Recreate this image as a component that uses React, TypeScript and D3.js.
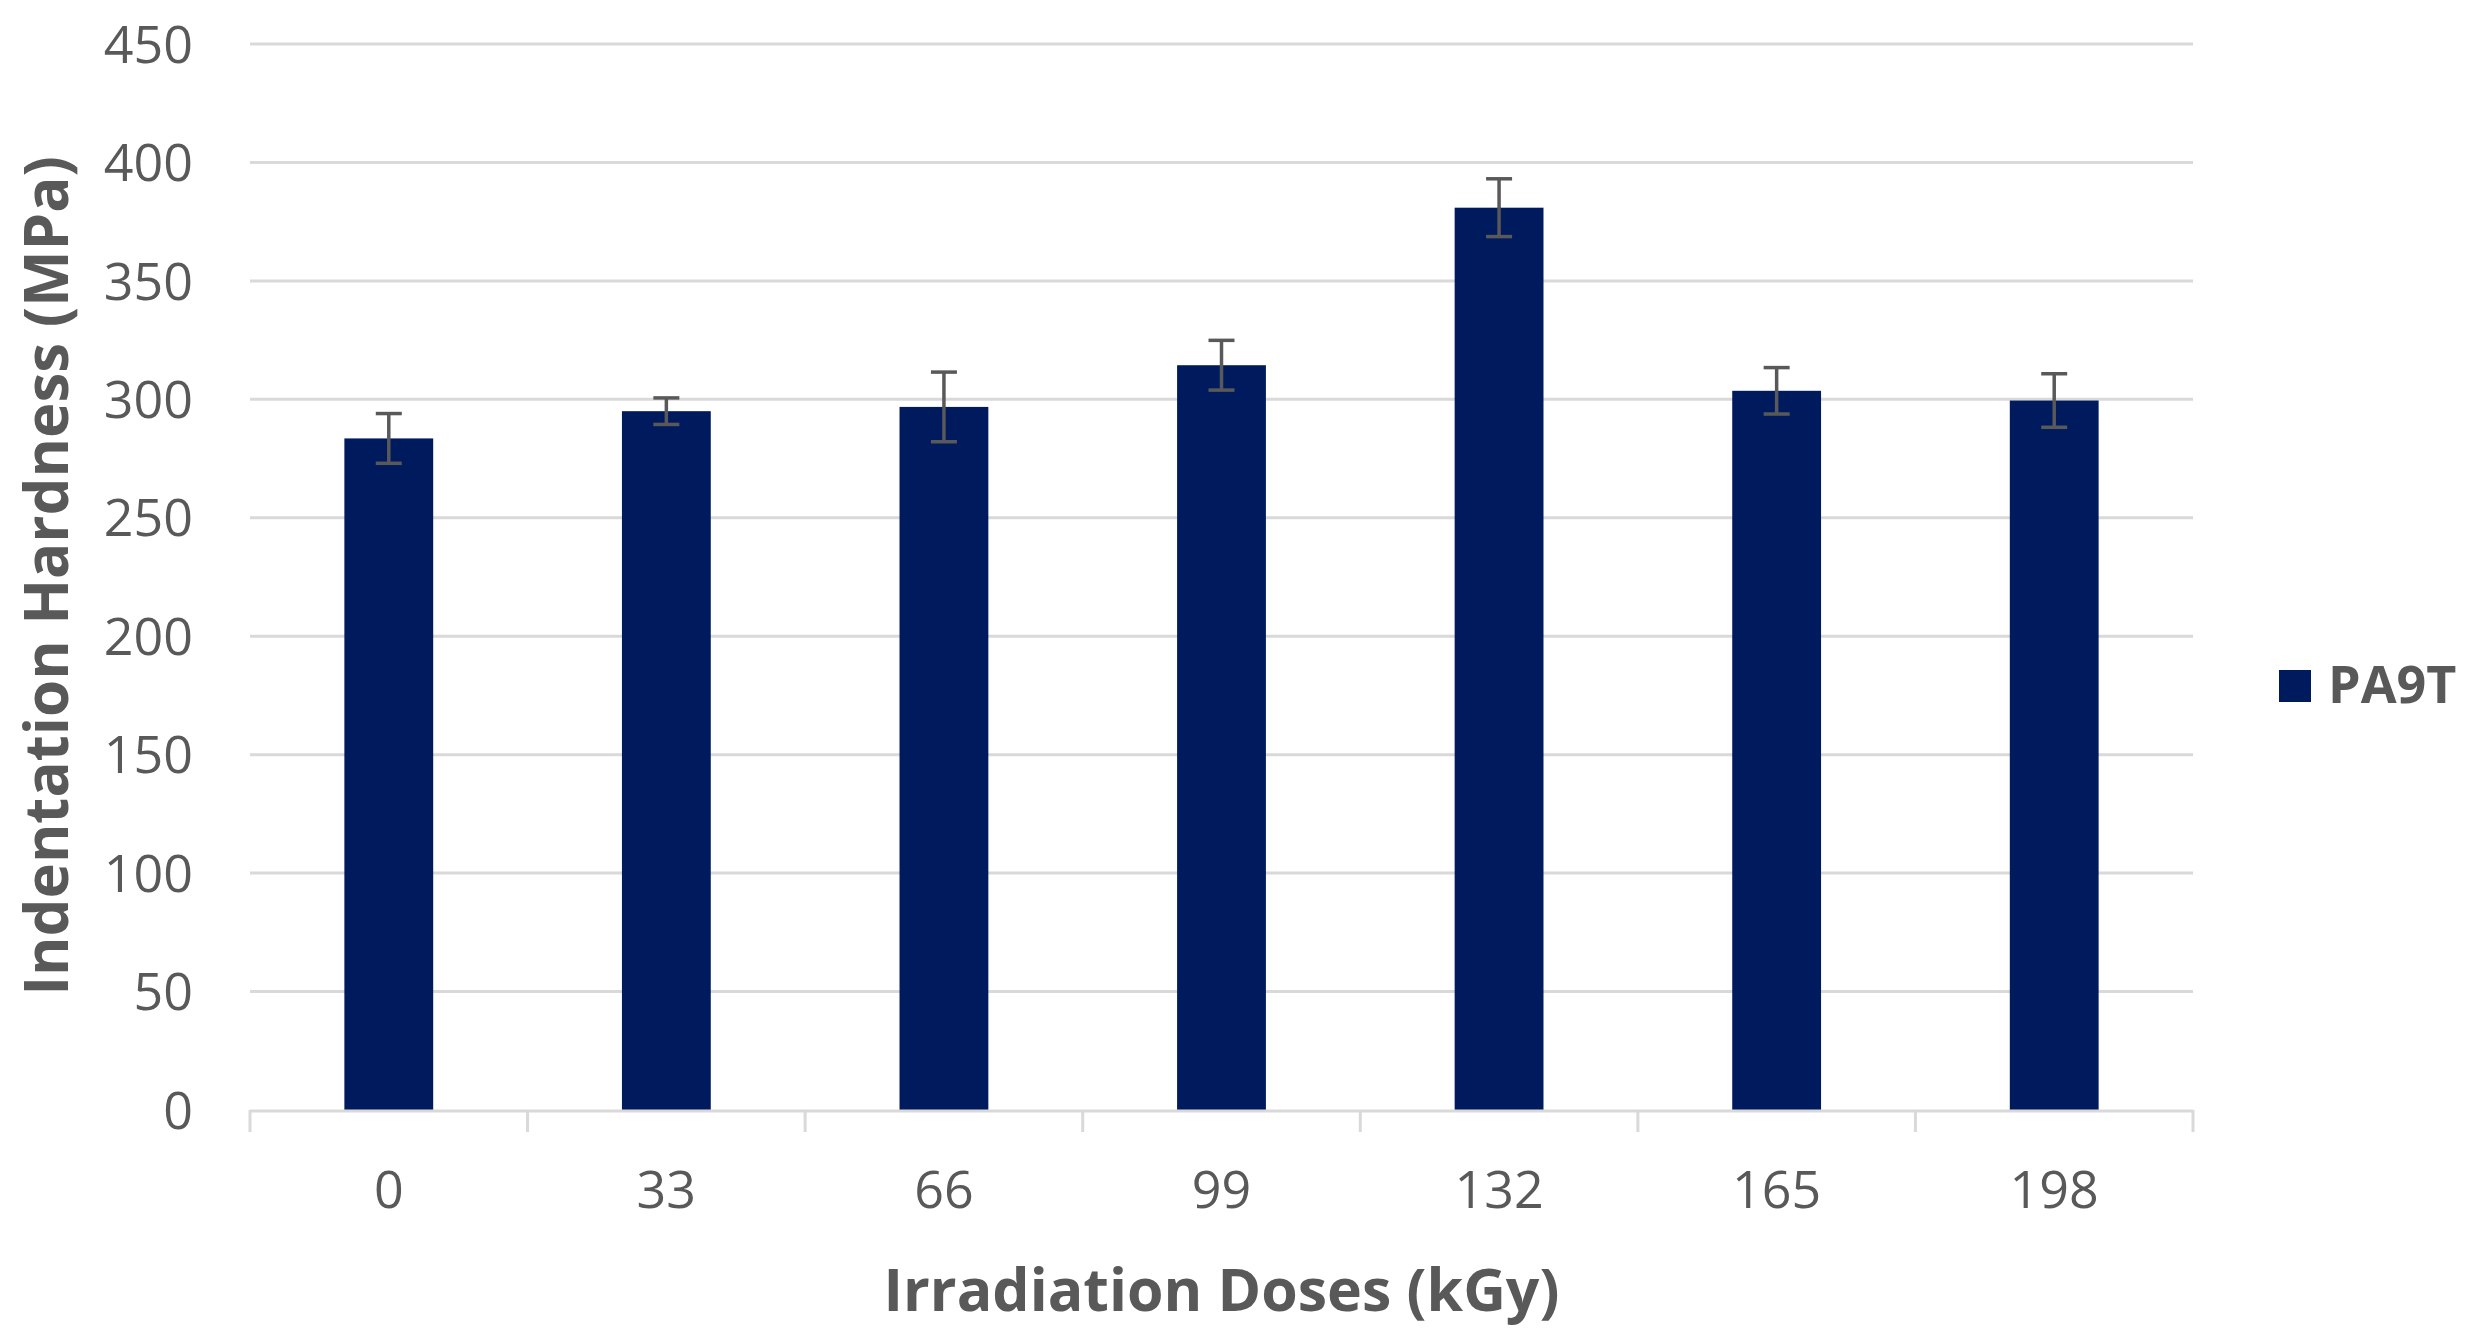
import React, { useEffect, useRef } from "react";
import * as d3 from "d3";

const doses = ["0", "33", "66", "99", "132", "165", "198"];
const hardness = [283.5, 295, 296.8, 314.4, 380.9, 303.6, 299.5];
const hardnessErr = [10.5, 5.6, 14.7, 10.5, 12.2, 9.8, 11.3];
const yTicks = [0, 50, 100, 150, 200, 250, 300, 350, 400, 450];
const seriesName = "PA9T";

const WIDTH = 2469;
const HEIGHT = 1340;
const PLOT = { left: 250, right: 2193, top: 44, bottom: 1110 };
const BAR_COLOR = "#001a5e";
const TEXT_COLOR = "#595959";
const GRID_COLOR = "#d9d9d9";
const FONT = "'Open Sans', 'Noto Sans', sans-serif";

export default function App() {
  const ref = useRef<SVGSVGElement>(null);

  useEffect(() => {
    document.body.style.margin = "0";
    if (!ref.current) return;
    const svg = d3.select(ref.current);
    svg.selectAll("*").remove();

    const x = d3
      .scaleBand<string>()
      .domain(doses)
      .range([PLOT.left, PLOT.right])
      .paddingInner(0.68)
      .paddingOuter(0.34);

    const band = d3.scaleBand<string>().domain(doses).range([PLOT.left, PLOT.right]);

    const y = d3.scaleLinear().domain([0, 450]).range([PLOT.bottom, PLOT.top]);

    // gridlines
    svg
      .append("g")
      .selectAll("line")
      .data(yTicks.filter((t) => t > 0))
      .enter()
      .append("line")
      .attr("x1", PLOT.left)
      .attr("x2", PLOT.right)
      .attr("y1", (d) => y(d))
      .attr("y2", (d) => y(d))
      .attr("stroke", GRID_COLOR)
      .attr("stroke-width", 3);

    // y tick labels
    svg
      .append("g")
      .selectAll("text")
      .data(yTicks)
      .enter()
      .append("text")
      .attr("x", 193)
      .attr("y", (d) => y(d))
      .attr("dy", "0.36em")
      .attr("text-anchor", "end")
      .attr("font-family", FONT)
      .attr("font-size", 52)
      .attr("fill", TEXT_COLOR)
      .text((d) => d);

    // bars
    svg
      .append("g")
      .selectAll("rect")
      .data(hardness)
      .enter()
      .append("rect")
      .attr("x", (d, i) => x(doses[i])!)
      .attr("width", x.bandwidth())
      .attr("y", (d) => y(d))
      .attr("height", (d) => y(0) - y(d))
      .attr("fill", BAR_COLOR);

    // x axis line and ticks
    const axis = svg.append("g");
    axis
      .append("line")
      .attr("x1", PLOT.left)
      .attr("x2", PLOT.right)
      .attr("y1", y(0) + 1)
      .attr("y2", y(0) + 1)
      .attr("stroke", GRID_COLOR)
      .attr("stroke-width", 3);
    const tickPos = doses.map((d) => band(d)!).concat([PLOT.right]);
    axis
      .selectAll("line.tick")
      .data(tickPos)
      .enter()
      .append("line")
      .attr("class", "tick")
      .attr("x1", (d) => d)
      .attr("x2", (d) => d)
      .attr("y1", y(0))
      .attr("y2", y(0) + 22)
      .attr("stroke", GRID_COLOR)
      .attr("stroke-width", 3);
    axis
      .selectAll("text")
      .data(doses)
      .enter()
      .append("text")
      .attr("x", (d) => band(d)! + band.bandwidth() / 2)
      .attr("y", 1208)
      .attr("text-anchor", "middle")
      .attr("font-family", FONT)
      .attr("font-size", 52)
      .attr("fill", TEXT_COLOR)
      .text((d) => d);

    // error bars
    const err = svg.append("g").attr("stroke", TEXT_COLOR).attr("stroke-width", 3.5);
    hardness.forEach((v, i) => {
      const cx = x(doses[i])! + x.bandwidth() / 2;
      const hi = y(v + hardnessErr[i]);
      const lo = y(v - hardnessErr[i]);
      err.append("line").attr("x1", cx).attr("x2", cx).attr("y1", hi).attr("y2", lo);
      err.append("line").attr("x1", cx - 13).attr("x2", cx + 13).attr("y1", hi).attr("y2", hi);
      err.append("line").attr("x1", cx - 13).attr("x2", cx + 13).attr("y1", lo).attr("y2", lo);
    });

    // axis titles
    svg
      .append("text")
      .attr("transform", `translate(68, 576) rotate(-90)`)
      .attr("text-anchor", "middle")
      .attr("font-family", FONT)
      .attr("font-weight", "bold")
      .attr("font-size", 60)
      .attr("fill", TEXT_COLOR)
      .text("Indentation Hardness (MPa)");

    svg
      .append("text")
      .attr("x", (PLOT.left + PLOT.right) / 2)
      .attr("y", 1311)
      .attr("text-anchor", "middle")
      .attr("font-family", FONT)
      .attr("font-weight", "bold")
      .attr("font-size", 59)
      .attr("fill", TEXT_COLOR)
      .text("Irradiation Doses (kGy)");

    // legend
    const legend = svg.append("g");
    legend
      .append("rect")
      .attr("x", 2279)
      .attr("y", 670)
      .attr("width", 32)
      .attr("height", 32)
      .attr("fill", BAR_COLOR);
    legend
      .append("text")
      .attr("x", 2328)
      .attr("y", 703)
      .attr("font-family", FONT)
      .attr("font-weight", "bold")
      .attr("font-size", 52)
      .attr("fill", TEXT_COLOR)
      .text(seriesName);
  }, []);

  return <svg ref={ref} width={WIDTH} height={HEIGHT} style={{ display: "block", background: "#fff" }} />;
}
